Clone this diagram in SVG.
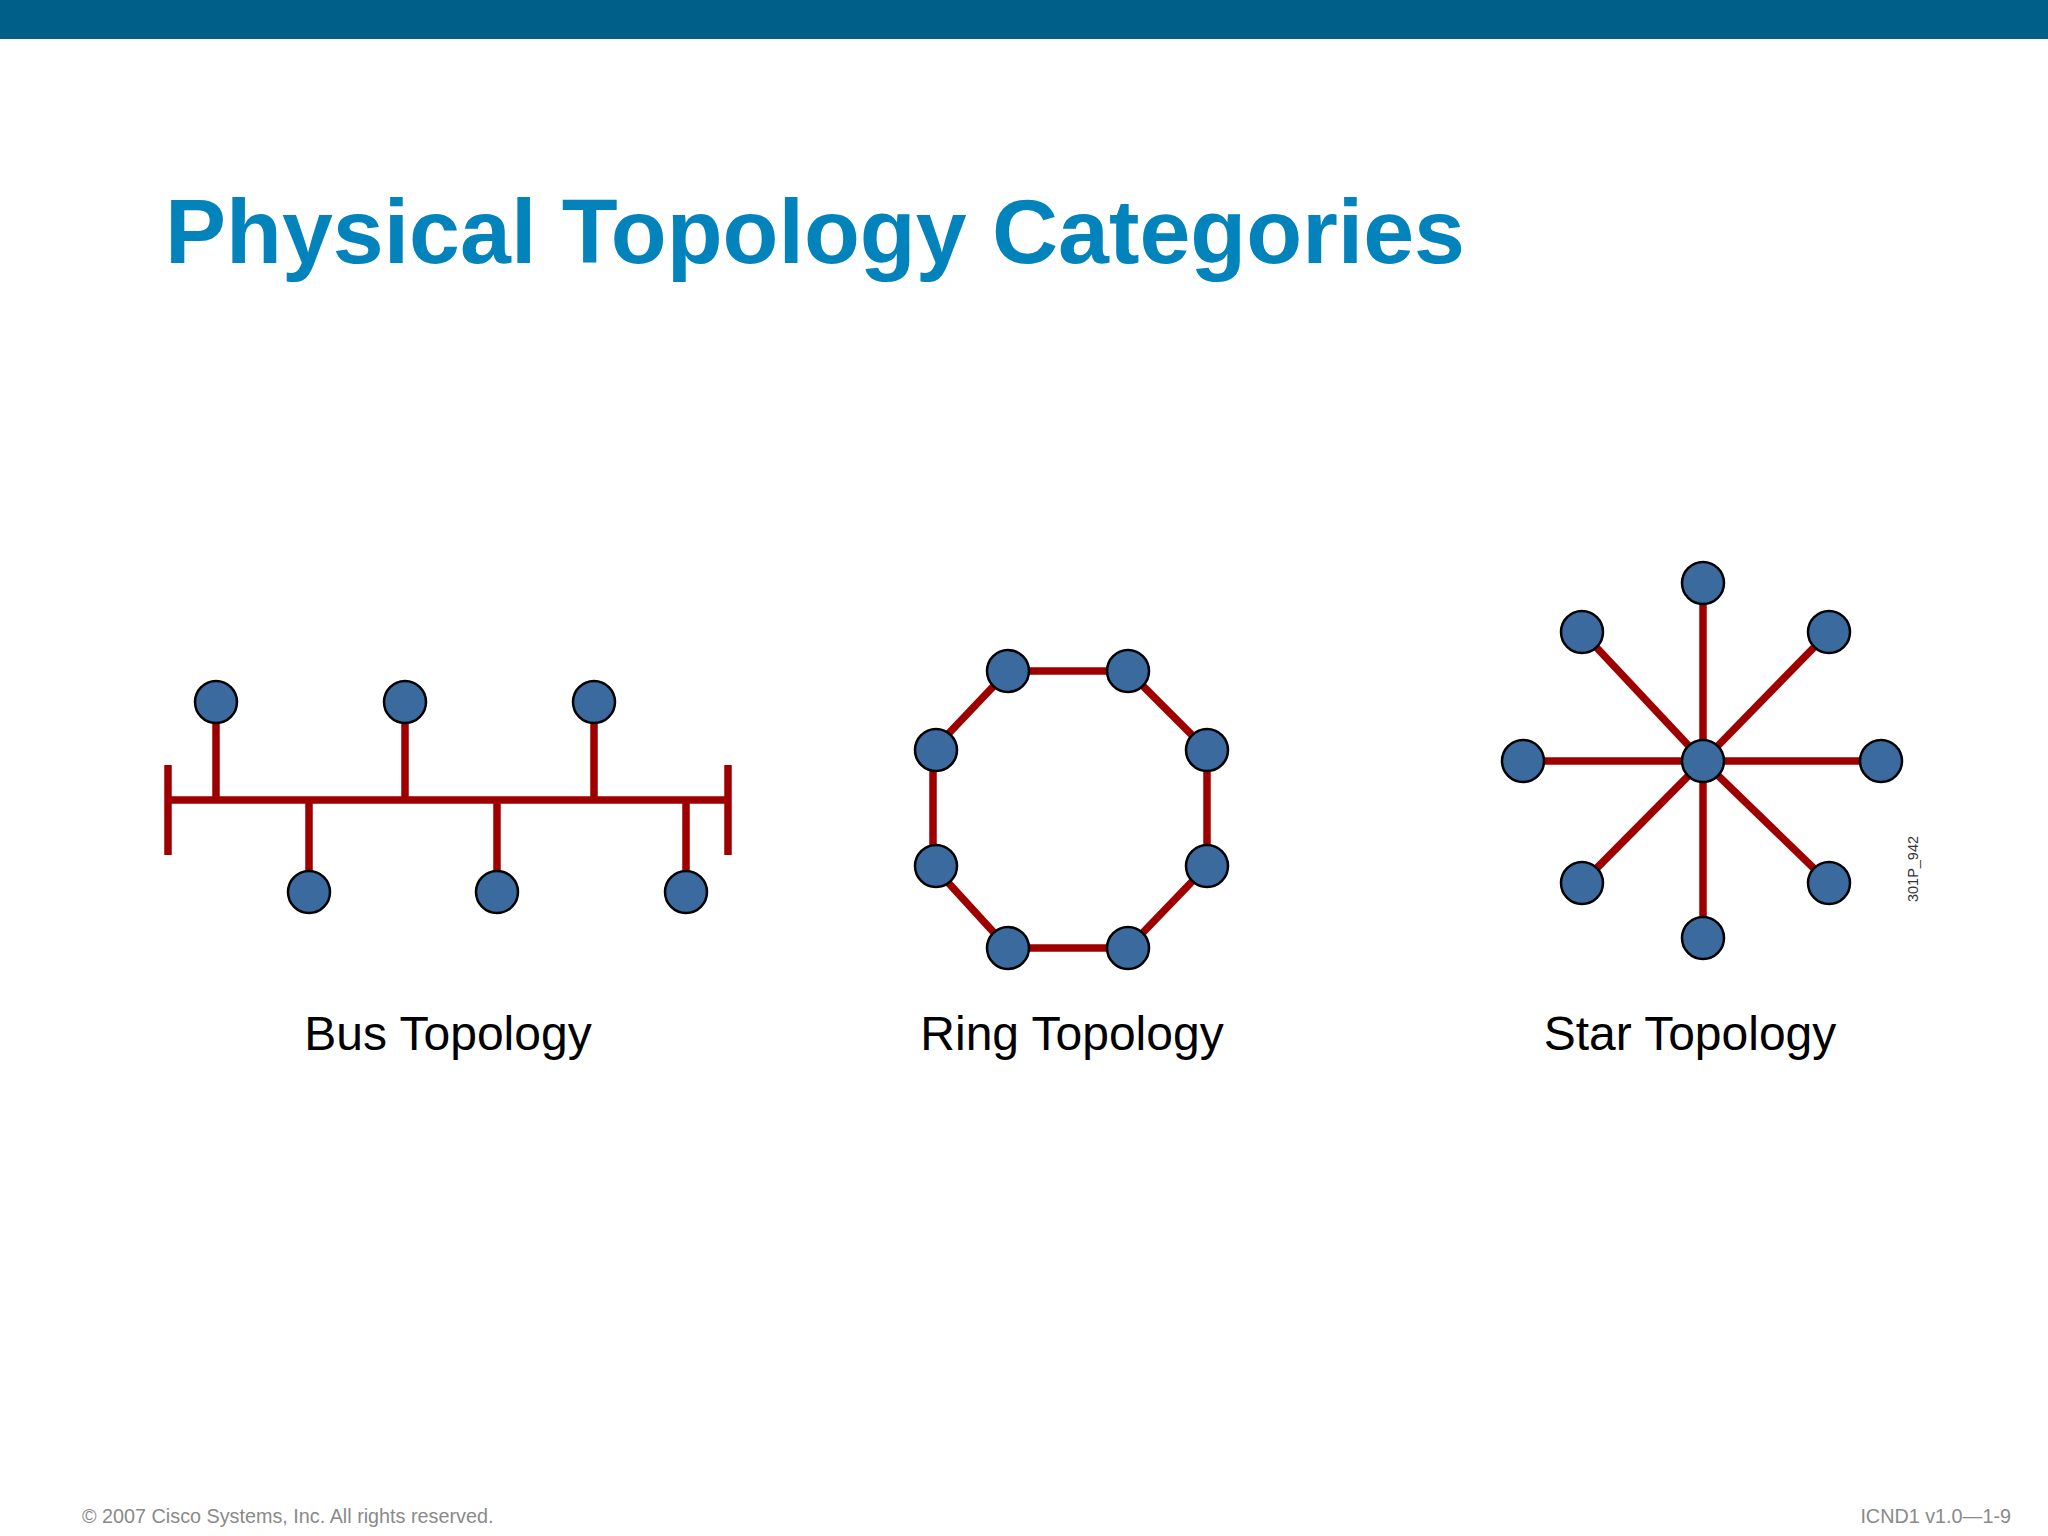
<svg xmlns="http://www.w3.org/2000/svg" width="2048" height="1536" viewBox="0 0 2048 1536">
<style>
.node{fill:#3a6a9e;stroke:#000;stroke-width:2.5}
.link{stroke:#9e0000;stroke-width:7.5;fill:none}
.lbl{font-family:"Liberation Sans",Arial,sans-serif;font-size:48px;fill:#000;text-anchor:middle}
.foot{font-family:"Liberation Sans",Arial,sans-serif;font-size:19.8px;fill:#8a8a8a}
</style>
<rect width="2048" height="1536" fill="#fff"/>
<rect x="0" y="0" width="2048" height="39" fill="#005f89"/>
<text x="165" y="263" font-family="'Liberation Sans',Arial,sans-serif" font-weight="bold" font-size="91.5" fill="#0283bc">Physical Topology Categories</text>

<g id="connectors" class="link">
  <line x1="168" y1="800" x2="728" y2="800"/>
  <line x1="168" y1="765" x2="168" y2="855"/>
  <line x1="728" y1="765" x2="728" y2="855"/>
  <line x1="216" y1="702" x2="216" y2="800"/>
  <line x1="405" y1="702" x2="405" y2="800"/>
  <line x1="594" y1="702" x2="594" y2="800"/>
  <line x1="309" y1="800" x2="309" y2="892"/>
  <line x1="497" y1="800" x2="497" y2="892"/>
  <line x1="686" y1="800" x2="686" y2="892"/>
  <polygon points="1008,671 1128,671 1207,750 1207,866 1128,948 1008,948 933,866 933,750"/>
  <line x1="1703" y1="761" x2="1703" y2="583"/>
  <line x1="1703" y1="761" x2="1703" y2="938"/>
  <line x1="1703" y1="761" x2="1523" y2="761"/>
  <line x1="1703" y1="761" x2="1881" y2="761"/>
  <line x1="1703" y1="761" x2="1582" y2="632"/>
  <line x1="1703" y1="761" x2="1829" y2="632"/>
  <line x1="1703" y1="761" x2="1582" y2="883"/>
  <line x1="1703" y1="761" x2="1829" y2="883"/>
</g>

<g id="bus">
  <circle id="bus-n1" class="node" cx="216" cy="702" r="21"/>
  <circle id="bus-n2" class="node" cx="405" cy="702" r="21"/>
  <circle id="bus-n3" class="node" cx="594" cy="702" r="21"/>
  <circle id="bus-n4" class="node" cx="309" cy="892" r="21"/>
  <circle id="bus-n5" class="node" cx="497" cy="892" r="21"/>
  <circle id="bus-n6" class="node" cx="686" cy="892" r="21"/>
</g>
<g id="ring">
  <circle id="ring-n1" class="node" cx="1008" cy="671" r="21"/>
  <circle id="ring-n2" class="node" cx="1128" cy="671" r="21"/>
  <circle id="ring-n3" class="node" cx="1207" cy="750" r="21"/>
  <circle id="ring-n4" class="node" cx="1207" cy="866" r="21"/>
  <circle id="ring-n5" class="node" cx="1128" cy="948" r="21"/>
  <circle id="ring-n6" class="node" cx="1008" cy="948" r="21"/>
  <circle id="ring-n7" class="node" cx="936" cy="866" r="21"/>
  <circle id="ring-n8" class="node" cx="936" cy="750" r="21"/>
</g>
<g id="star">
  <circle id="star-hub" class="node" cx="1703" cy="761" r="21"/>
  <circle id="star-n1" class="node" cx="1703" cy="583" r="21"/>
  <circle id="star-n2" class="node" cx="1829" cy="632" r="21"/>
  <circle id="star-n3" class="node" cx="1881" cy="761" r="21"/>
  <circle id="star-n4" class="node" cx="1829" cy="883" r="21"/>
  <circle id="star-n5" class="node" cx="1703" cy="938" r="21"/>
  <circle id="star-n6" class="node" cx="1582" cy="883" r="21"/>
  <circle id="star-n7" class="node" cx="1523" cy="761" r="21"/>
  <circle id="star-n8" class="node" cx="1582" cy="632" r="21"/>
</g>

<text class="lbl" x="448" y="1050">Bus Topology</text>
<text class="lbl" x="1072" y="1050">Ring Topology</text>
<text class="lbl" x="1690" y="1050">Star Topology</text>

<text transform="translate(1918,869) rotate(-90)" text-anchor="middle" font-family="'Liberation Sans',Arial,sans-serif" font-size="14.5" fill="#333">301P_942</text>

<text class="foot" x="82" y="1523">© 2007 Cisco Systems, Inc. All rights reserved.</text>
<text class="foot" x="2011" y="1523" text-anchor="end">ICND1 v1.0—1-9</text>
</svg>
